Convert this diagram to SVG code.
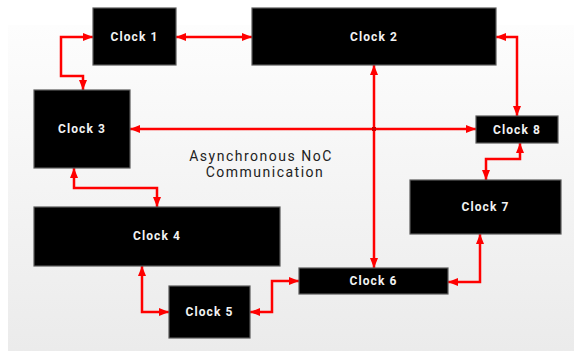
<svg xmlns="http://www.w3.org/2000/svg" width="574" height="351" viewBox="0 0 574 351">
<defs>
<linearGradient id="bg" x1="0" y1="0" x2="0" y2="1">
<stop offset="0" stop-color="#fdfdfd"/>
<stop offset="1" stop-color="#ebebeb"/>
</linearGradient>
<marker id="ah" viewBox="0 0 10 8" refX="10" refY="4" markerWidth="10" markerHeight="8" markerUnits="userSpaceOnUse" orient="auto-start-reverse">
<path d="M0,0 L10,4 L0,8 Z" fill="#ff0000"/>
</marker>
<style>
.box{fill:#000;stroke:#5a5a5a;stroke-width:1.2}
.lbl{font-family:Roboto,"Liberation Sans",sans-serif;font-weight:bold;font-size:12px;fill:#f2f2f2;letter-spacing:1.1px;text-anchor:middle}
.con{fill:none;stroke:#ff0000;stroke-width:2.5;marker-start:url(#ah);marker-end:url(#ah)}
.note{font-family:Roboto,"Liberation Sans",sans-serif;font-size:14px;fill:#222;letter-spacing:1.5px;text-anchor:middle}
</style>
</defs>
<rect x="0" y="0" width="574" height="351" fill="#fff"/>
<rect x="8" y="25" width="566" height="326" fill="url(#bg)"/>
<g id="connectors">
<path class="con" d="M93,37 H61 V76 H83 V90"/>
<path class="con" d="M176,37 H252"/>
<path class="con" d="M496,37 H517 V116"/>
<path class="con" d="M130,129 H476"/>
<path class="con" d="M374,65 V268"/>
<path class="con" d="M520,143 V159 H486 V180"/>
<path class="con" d="M74,168 V188 H157 V207"/>
<path class="con" d="M142,266 V312 H169"/>
<path class="con" d="M250,312 H272 V281 H299"/>
<path class="con" d="M448,282 H480 V234"/>
<rect x="372" y="127" width="4" height="4" fill="#d00000"/>
</g>
<g id="clock1"><rect class="box" x="93" y="8" width="83" height="57"/><text class="lbl" x="134.5" y="41">Clock 1</text></g>
<g id="clock2"><rect class="box" x="252" y="8" width="244" height="57"/><text class="lbl" x="374" y="41">Clock 2</text></g>
<g id="clock3"><rect class="box" x="34" y="90" width="96" height="78"/><text class="lbl" x="82" y="133">Clock 3</text></g>
<g id="clock8"><rect class="box" x="476" y="116" width="82" height="27"/><text class="lbl" x="517" y="134">Clock 8</text></g>
<g id="clock4"><rect class="box" x="34" y="207" width="246" height="59"/><text class="lbl" x="157" y="240">Clock 4</text></g>
<g id="clock5"><rect class="box" x="169" y="286" width="81" height="52"/><text class="lbl" x="209.5" y="316">Clock 5</text></g>
<g id="clock6"><rect class="box" x="299" y="268" width="149" height="26"/><text class="lbl" x="373.5" y="285">Clock 6</text></g>
<g id="clock7"><rect class="box" x="410" y="180" width="151" height="54"/><text class="lbl" x="485.5" y="211">Clock 7</text></g>
<g id="note"><text class="note" x="261" y="161">Asynchronous NoC</text><text class="note" x="265" y="177">Communication</text></g>
</svg>
